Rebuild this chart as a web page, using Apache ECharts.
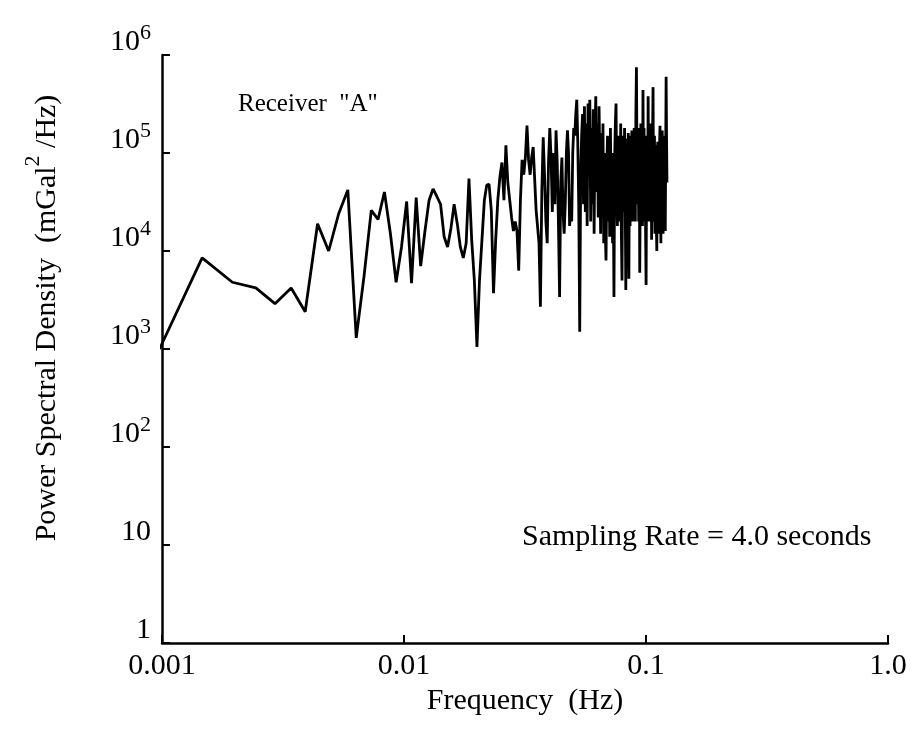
<!DOCTYPE html>
<html>
<head>
<meta charset="utf-8">
<script src="https://cdn.jsdelivr.net/npm/echarts@6/dist/echarts.min.js"></script>
<style>
  html, body { margin: 0; padding: 0; background: #fff; }
  #chart { width: 915px; height: 745px; }
</style>
</head>
<body>
<div id="chart"></div>
<script>
// Spectrum estimate: one value per FFT bin, starting at bin 2.
// Bin spacing follows from a 512-point record sampled every 4.0 s.
const samplingSeconds = 4.0;
const fftLength = 512;
const firstBin = 2;

// Power spectral density, mGal^2/Hz, bins 2 .. 250
const psd = [
  1000, 8500, 4800, 4200, 2900, 4200, 2400, 19000, 10000, 24000,
  42000, 1300, 5500, 26000, 21000, 40000, 15000, 4800, 11000, 32000,
  4700, 35000, 7000, 16000, 33000, 43000, 36000, 30000, 14000, 11000,
  17000, 30000, 19000, 11000, 8500, 12000, 55000, 13000, 5000, 1050,
  5000, 13000, 33000, 47000, 48000, 26000, 3700, 13000, 33000, 57000,
  80000, 33000, 120000, 50000, 33000, 22000, 16000, 20000, 16000, 6300,
  33000, 85000, 60000, 90000, 190000, 85000, 60000, 90000, 115000, 110000,
  26000, 26000, 12000, 2700, 40000, 145000, 60000, 20000, 12000, 80000,
  180000, 90000, 25000, 100000, 30000, 170000, 80000, 20000, 3400, 50000,
  90000, 25000, 15000, 30000, 100000, 170000, 100000, 18000, 26000, 20000,
  100000, 180000, 150000, 250000, 350000, 130000, 30000, 1500, 60000, 150000,
  // bins 112 .. 250
  250000, 30000, 300000, 25000, 200000, 18000, 320000, 60000, 350000, 20000,
  180000, 30000, 280000, 15000, 150000, 380000, 40000, 200000, 22000, 300000,
  80000, 15000, 160000, 30000, 200000, 12000, 100000, 16000, 8000, 60000,
  150000, 20000, 120000, 14000, 180000, 30000, 100000, 12000, 40000, 3400,
  90000, 200000, 320000, 40000, 18000, 150000, 30000, 120000, 20000, 200000,
  15000, 5000, 90000, 150000, 25000, 180000, 40000, 4000, 30000, 140000,
  25000, 160000, 5200, 100000, 18000, 150000, 30000, 170000, 20000, 130000,
  35000, 180000, 50000, 20000, 250000, 750000, 80000, 30000, 150000, 20000,
  180000, 6000, 60000, 200000, 25000, 160000, 18000, 440000, 50000, 180000,
  20000, 150000, 16000, 4500, 90000, 150000, 20000, 380000, 60000, 30000,
  150000, 20000, 120000, 200000, 13000, 40000, 150000, 470000, 40000, 20000,
  150000, 15000, 80000, 120000, 20000, 10000, 90000, 130000, 25000, 100000,
  15000, 120000, 190000, 30000, 12000, 100000, 20000, 170000, 30000, 15000,
  120000, 25000, 150000, 30000, 16000, 100000, 600000, 150000, 50000
];

// Decade tick labels
const xTickLabels = ['0.001', '0.01', '0.1', '1.0'];   // 10^-3 .. 10^0
const yTickLabels = ['1', '10', '10{s|2}', '10{s|3}', '10{s|4}', '10{s|5}', '10{s|6}'];

const binHz = 1 / (fftLength * samplingSeconds);
const points = psd.map((v, i) => [(firstBin + i) * binHz, v]);

const serif = '"Liberation Serif", "DejaVu Serif", serif';
const chart = echarts.init(document.getElementById('chart'), null, { renderer: 'canvas' });

chart.setOption({
  animation: false,
  backgroundColor: '#fff',
  grid: { left: 162, right: 27, top: 55, bottom: 102, containLabel: false },
  xAxis: {
    type: 'log', logBase: 10, min: 0.001, max: 1,
    name: 'Frequency  (Hz)', nameLocation: 'middle', nameGap: 27,
    nameTextStyle: { fontFamily: serif, fontSize: 30, color: '#000', verticalAlign: 'top' },
    axisLine: { show: true, lineStyle: { color: '#000', width: 2.5 } },
    axisTick: { show: true, inside: true, length: 8, lineStyle: { color: '#000', width: 2 } },
    minorTick: { show: false },
    splitLine: { show: false },
    axisLabel: {
      fontFamily: serif, fontSize: 30, color: '#000', margin: 8,
      formatter: v => xTickLabels[Math.round(Math.log10(v)) + 3]
    }
  },
  yAxis: {
    type: 'log', logBase: 10, min: 1, max: 1000000,
    axisLine: { show: true, lineStyle: { color: '#000', width: 2.5 } },
    axisTick: { show: true, inside: true, length: 8, lineStyle: { color: '#000', width: 2 } },
    splitLine: { show: false },
    axisLabel: {
      fontFamily: serif, fontSize: 30, color: '#000', margin: 11,
      padding: [0, 0, 26, 0],
      formatter: v => yTickLabels[Math.round(Math.log10(v))],
      rich: {
        s: { fontFamily: serif, fontSize: 22, color: '#000', verticalAlign: 'bottom', padding: [0, 0, 18, 0] }
      }
    }
  },
  graphic: [
    {
      type: 'text', x: 42, y: 318, rotation: Math.PI / 2,
      style: {
        text: '{t|Power Spectral Density  (mGal}{s|2}{t| /Hz)}',
        align: 'center', verticalAlign: 'middle',
        rich: {
          t: { fontFamily: serif, fontSize: 30, fill: '#000', verticalAlign: 'bottom' },
          s: { fontFamily: serif, fontSize: 22, fill: '#000', verticalAlign: 'bottom', padding: [0, 0, 18, 0] }
        }
      }
    },
    {
      type: 'text', x: 238, y: 104,
      style: { text: 'Receiver  "A"', fontFamily: serif, fontSize: 25, fill: '#000', verticalAlign: 'middle' }
    },
    {
      type: 'text', x: 522, y: 537,
      style: { text: 'Sampling Rate = 4.0 seconds', fontFamily: serif, fontSize: 30, fill: '#000', verticalAlign: 'middle' }
    }
  ],
  series: [{
    type: 'line',
    data: points,
    showSymbol: false,
    clip: true,
    lineStyle: { color: '#000', width: 2.8 }
  }]
});
</script>
</body>
</html>
